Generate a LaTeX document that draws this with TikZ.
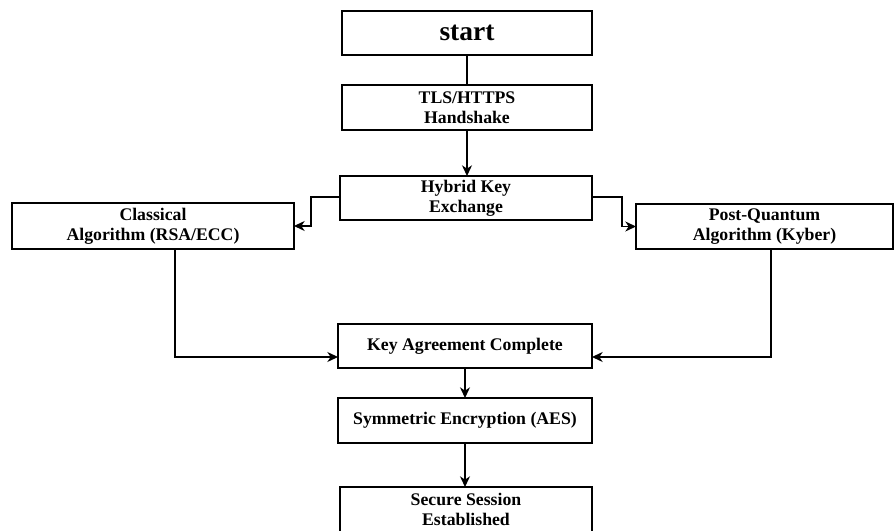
\documentclass[tikz,border=0pt]{standalone}
\usepackage{fontspec}
\setmainfont{Liberation Serif}
\usetikzlibrary{arrows.meta}

\begin{document}
\begin{tikzpicture}[
    x=0.75pt, y=-0.75pt,
    every node/.style={inner sep=0pt, outer sep=0pt},
    stepbox/.style={draw=black, line width=0.9pt, fill=white, align=center,
      font=\fontsize{13.3}{15}\selectfont\bfseries},
    titlebox/.style={stepbox, font=\fontsize{20.6}{24}\selectfont\bfseries},
    link/.style={draw=black, line width=0.9pt},
    arr/.style={link, -{Stealth[length=8pt, width=7.5pt, inset=2.5pt]}}
  ]
  \useasboundingbox (0,0) rectangle (894,531);

  % main column
  \node[titlebox, minimum width=187.5pt, minimum height=33pt] (start) at (467,33) {start};
  \node[stepbox, minimum width=187.5pt, minimum height=33.75pt] (tls) at (467,107.5) {TLS/HTTPS\\Handshake};
  \node[stepbox, minimum width=189pt, minimum height=33pt] (hybrid) at (466,198) {Hybrid Key\\Exchange};

  % the two key exchange branches
  \node[stepbox, minimum width=211.5pt, minimum height=34.5pt] (classical) at (153,226) {Classical\\Algorithm (RSA/ECC)};
  \node[stepbox, minimum width=192.75pt, minimum height=33.75pt] (pq) at (764.5,226.5) {Post-Quantum\\Algorithm (Kyber)};

  % joined result
  \node[stepbox, minimum width=190.5pt, minimum height=33pt] (key) at (465,346) {Key Agreement Complete};
  \node[stepbox, minimum width=190.5pt, minimum height=33.75pt] (sym) at (465,420.5) {Symmetric Encryption (AES)};
  \node[stepbox, minimum width=189pt, minimum height=33.75pt] (secure) at (466,509.5) {Secure Session\\Established};

  % connectors
  \draw[link] (start.south) -- (tls.north);
  \draw[arr] (tls.south) -- (tls.south |- hybrid.north);
  \draw[arr] ([yshift=0.75pt]hybrid.west) -- ++(-29,0) |- (classical.east);
  \draw[arr] ([yshift=0.75pt]hybrid.east) -- ++(30,0) |- (pq.west);
  \draw[arr] ([xshift=16.5pt]classical.south) |- ([yshift=-8.25pt]key.west);
  \draw[arr] ([xshift=4.9pt]pq.south) |- ([yshift=-8.25pt]key.east);
  \draw[arr] (key.south) -- (key.south |- sym.north);
  \draw[arr] (sym.south) -- (sym.south |- secure.north);
\end{tikzpicture}
\end{document}
